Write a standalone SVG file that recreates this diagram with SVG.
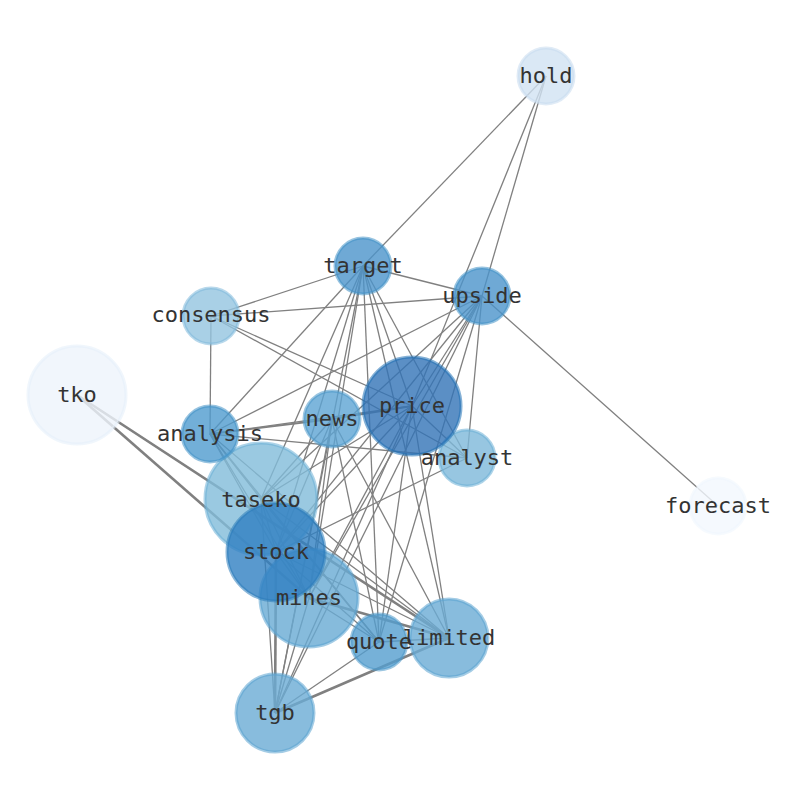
<svg xmlns="http://www.w3.org/2000/svg" width="794" height="790" viewBox="0 0 794 790">
<style>
.e{stroke:#808080;stroke-width:1.3;fill:none}
.t{stroke-width:2.6}
.m{stroke-width:1.9}
.n{fill-opacity:0.8;stroke-opacity:0.55;stroke-width:3}
.l{font-family:"DejaVu Sans Mono","Liberation Mono",monospace;font-size:22px;fill:#333333;text-anchor:middle;dominant-baseline:central}
</style>
<rect width="794" height="790" fill="#ffffff"/>
<g id="connectors">
<line class="e" x1="546" y1="76" x2="363" y2="266"/>
<line class="e" x1="546" y1="76" x2="482" y2="296"/>
<line class="e" x1="546" y1="76" x2="412" y2="406"/>
<line class="e" x1="482" y1="296" x2="718" y2="506"/>
<line class="e" x1="363" y1="266" x2="211" y2="316"/>
<line class="e" x1="363" y1="266" x2="482" y2="296"/>
<line class="e" x1="363" y1="266" x2="210" y2="434"/>
<line class="e" x1="363" y1="266" x2="412" y2="406"/>
<line class="e" x1="363" y1="266" x2="467" y2="458"/>
<line class="e" x1="363" y1="266" x2="261" y2="499"/>
<line class="e" x1="363" y1="266" x2="276" y2="552"/>
<line class="e" x1="363" y1="266" x2="309" y2="598"/>
<line class="e" x1="363" y1="266" x2="379" y2="642"/>
<line class="e" x1="363" y1="266" x2="449" y2="638"/>
<line class="e" x1="363" y1="266" x2="275" y2="713"/>
<line class="e" x1="211" y1="316" x2="482" y2="296"/>
<line class="e" x1="211" y1="316" x2="210" y2="434"/>
<line class="e" x1="211" y1="316" x2="412" y2="406"/>
<line class="e" x1="211" y1="316" x2="467" y2="458"/>
<line class="e" x1="482" y1="296" x2="210" y2="434"/>
<line class="e" x1="482" y1="296" x2="412" y2="406"/>
<line class="e" x1="482" y1="296" x2="467" y2="458"/>
<line class="e" x1="482" y1="296" x2="261" y2="499"/>
<line class="e" x1="482" y1="296" x2="276" y2="552"/>
<line class="e" x1="482" y1="296" x2="309" y2="598"/>
<line class="e" x1="482" y1="296" x2="379" y2="642"/>
<line class="e" x1="482" y1="296" x2="275" y2="713"/>
<line class="e m" x1="210" y1="434" x2="332" y2="419"/>
<line class="e" x1="210" y1="434" x2="412" y2="406"/>
<line class="e" x1="210" y1="434" x2="467" y2="458"/>
<line class="e" x1="210" y1="434" x2="261" y2="499"/>
<line class="e" x1="210" y1="434" x2="276" y2="552"/>
<line class="e" x1="210" y1="434" x2="309" y2="598"/>
<line class="e" x1="210" y1="434" x2="379" y2="642"/>
<line class="e" x1="210" y1="434" x2="449" y2="638"/>
<line class="e m" x1="332" y1="419" x2="412" y2="406"/>
<line class="e" x1="332" y1="419" x2="261" y2="499"/>
<line class="e" x1="332" y1="419" x2="276" y2="552"/>
<line class="e" x1="332" y1="419" x2="309" y2="598"/>
<line class="e" x1="332" y1="419" x2="379" y2="642"/>
<line class="e" x1="332" y1="419" x2="449" y2="638"/>
<line class="e" x1="332" y1="419" x2="275" y2="713"/>
<line class="e" x1="412" y1="406" x2="467" y2="458"/>
<line class="e" x1="412" y1="406" x2="261" y2="499"/>
<line class="e" x1="412" y1="406" x2="276" y2="552"/>
<line class="e" x1="412" y1="406" x2="309" y2="598"/>
<line class="e" x1="412" y1="406" x2="379" y2="642"/>
<line class="e" x1="412" y1="406" x2="449" y2="638"/>
<line class="e" x1="412" y1="406" x2="275" y2="713"/>
<line class="e" x1="467" y1="458" x2="276" y2="552"/>
<line class="e t" x1="77" y1="395" x2="449" y2="638"/>
<line class="e t" x1="77" y1="395" x2="309" y2="598"/>
<line class="e" x1="261" y1="499" x2="276" y2="552"/>
<line class="e" x1="261" y1="499" x2="309" y2="598"/>
<line class="e" x1="261" y1="499" x2="379" y2="642"/>
<line class="e" x1="261" y1="499" x2="449" y2="638"/>
<line class="e" x1="261" y1="499" x2="275" y2="713"/>
<line class="e" x1="276" y1="552" x2="309" y2="598"/>
<line class="e" x1="276" y1="552" x2="379" y2="642"/>
<line class="e" x1="276" y1="552" x2="449" y2="638"/>
<line class="e t" x1="276" y1="552" x2="275" y2="713"/>
<line class="e" x1="309" y1="598" x2="379" y2="642"/>
<line class="e t" x1="309" y1="598" x2="449" y2="638"/>
<line class="e" x1="309" y1="598" x2="275" y2="713"/>
<line class="e" x1="379" y1="642" x2="449" y2="638"/>
<line class="e" x1="379" y1="642" x2="275" y2="713"/>
<line class="e t" x1="449" y1="638" x2="275" y2="713"/>
</g>
<g id="node-tko"><circle class="n" cx="77" cy="395" r="49" fill="#eef4fb" stroke="#e3eef9"/></g>
<g id="node-hold"><circle class="n" cx="546" cy="76" r="28" fill="#d1e2f2" stroke="#c6dbef"/></g>
<g id="node-forecast"><circle class="n" cx="718" cy="506" r="28" fill="#f2f7fe" stroke="#eef5fd"/></g>
<g id="node-consensus"><circle class="n" cx="211" cy="316" r="28" fill="#94c4e0" stroke="#7db8da"/></g>
<g id="node-analyst"><circle class="n" cx="467" cy="458" r="28" fill="#7db8da" stroke="#6aaed6"/></g>
<g id="node-taseko"><circle class="n" cx="261" cy="499" r="56" fill="#81bbda" stroke="#6aaed6"/></g>
<g id="node-mines"><circle class="n" cx="309" cy="598" r="49" fill="#68aad3" stroke="#5aa2d0"/></g>
<g id="node-limited"><circle class="n" cx="449" cy="638" r="39" fill="#6aabd5" stroke="#5aa2d0"/></g>
<g id="node-tgb"><circle class="n" cx="275" cy="713" r="39" fill="#6aabd5" stroke="#5aa2d0"/></g>
<g id="node-quote"><circle class="n" cx="379" cy="642" r="28" fill="#549dce" stroke="#4a98c9"/></g>
<g id="node-analysis"><circle class="n" cx="210" cy="434" r="28" fill="#4f9bce" stroke="#4292c6"/></g>
<g id="node-news"><circle class="n" cx="332" cy="419" r="28" fill="#5da4d3" stroke="#4a98c9"/></g>
<g id="node-target"><circle class="n" cx="363" cy="266" r="28" fill="#4b94ca" stroke="#4292c6"/></g>
<g id="node-upside"><circle class="n" cx="482" cy="296" r="28" fill="#4b94ca" stroke="#4292c6"/></g>
<g id="node-price"><circle class="n" cx="412" cy="406" r="49" fill="#3273b7" stroke="#2171b5"/></g>
<g id="node-stock"><circle class="n" cx="276" cy="552" r="49" fill="#3080c2" stroke="#2b7bba"/></g>
<g id="labels">
<text class="l" x="546" y="75">hold</text>
<text class="l" x="363" y="265">target</text>
<text class="l" x="482" y="295">upside</text>
<text class="l" x="211" y="314">consensus</text>
<text class="l" x="77" y="394">tko</text>
<text class="l" x="412" y="405">price</text>
<text class="l" x="332" y="418">news</text>
<text class="l" x="210" y="433">analysis</text>
<text class="l" x="467" y="457">analyst</text>
<text class="l" x="718" y="505">forecast</text>
<text class="l" x="261" y="499">taseko</text>
<text class="l" x="276" y="551">stock</text>
<text class="l" x="309" y="597">mines</text>
<text class="l" x="379" y="641">quote</text>
<text class="l" x="449" y="637">limited</text>
<text class="l" x="275" y="712">tgb</text>
</g>
</svg>
